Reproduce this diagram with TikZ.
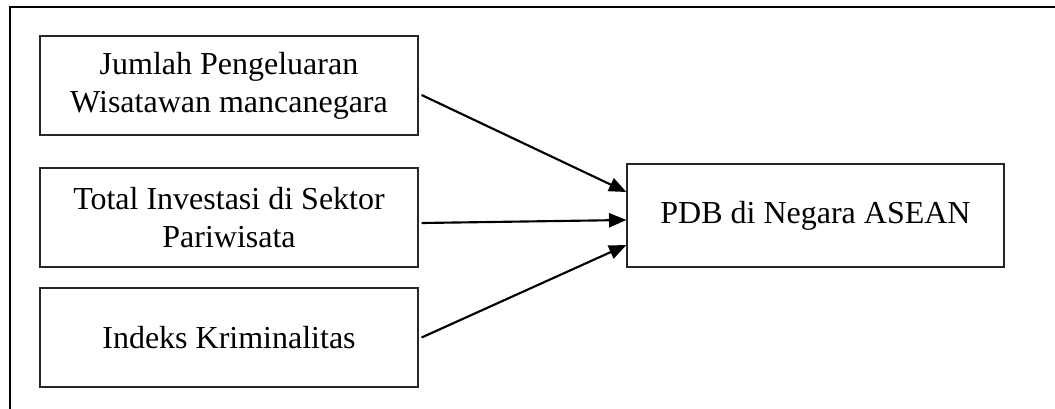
\documentclass[tikz,border=0pt]{standalone}
\usepackage{fontspec}
\setmainfont{Liberation Serif}
\usetikzlibrary{arrows.meta}

\tikzset{
  varbox/.style={draw=black!85, line width=0.9pt, align=center,
    minimum width=378*0.75pt, minimum height=99*0.75pt, inner sep=0pt,
    font=\fontsize{24pt}{28.5pt}\selectfont},
  link/.style={line width=1.6pt,
    -{Triangle[length=13pt, width=10.5pt]}}
}

\begin{document}
\begin{tikzpicture}[x=0.75pt, y=-0.75pt]
      \useasboundingbox (0,0) rectangle (1055,408);
      % Outer frame
      \draw[line width=1.6pt] (10,430) -- (10,7) -- (1080,7);
      % Define nodes
      \node[varbox] (jumlah)   at (229,85.5)  {Jumlah Pengeluaran\\Wisatawan mancanegara};
      \node[varbox] (investasi) at (229,217.5) {Total Investasi di Sektor\\Pariwisata};
      \node[varbox] (kriminal) at (229,337.5) {Indeks Kriminalitas};
      \node[varbox, minimum width=377*0.75pt, minimum height=103*0.75pt]
        (pdb) at (815.5,215.5) {PDB di Negara ASEAN};
      % Connect nodes
      \draw[link] ([shift={(3,9.5)}]jumlah.east) -- ([yshift=23.5*0.75pt]pdb.west);
      \draw[link] ([shift={(3,5.5)}]investasi.east) -- ([yshift=-4.5*0.75pt]pdb.west);
      \draw[link] ([shift={(3,0)}]kriminal.east) -- ([yshift=-29.5*0.75pt]pdb.west);
    \end{tikzpicture}
\end{document}
